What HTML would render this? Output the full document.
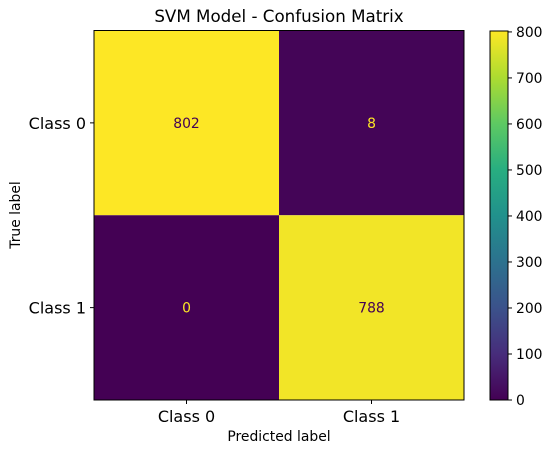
<!DOCTYPE html>
<html><head><meta charset="utf-8"><style>
body{margin:0;background:#fff;}
text{font-family:"DejaVu Sans","Liberation Sans",sans-serif;}
</style></head><body>
<svg id="c" width="553" height="454" xmlns="http://www.w3.org/2000/svg">
<defs><linearGradient id="vir" x1="0" y1="1" x2="0" y2="0">
<stop offset="0" stop-color="#440154"/><stop offset="0.125" stop-color="#472d7b"/><stop offset="0.25" stop-color="#3b528b"/><stop offset="0.375" stop-color="#2c728e"/><stop offset="0.5" stop-color="#21918c"/><stop offset="0.625" stop-color="#28ae80"/><stop offset="0.75" stop-color="#5ec962"/><stop offset="0.875" stop-color="#addc30"/><stop offset="1" stop-color="#fde725"/>
</linearGradient></defs>
<text x="279" y="22" font-size="16.7" text-anchor="middle">SVM Model - Confusion Matrix</text>
<g id="cells"></g>
<rect x="94" y="30.5" width="370" height="369.5" fill="none" stroke="#000" stroke-width="1"/>
<text x="279" y="441" font-size="13.9" text-anchor="middle">Predicted label</text>
<text transform="translate(20,215) rotate(-90)" font-size="13.9" text-anchor="middle">True label</text>
<rect x="490" y="31" width="18" height="369" fill="url(#vir)" stroke="#000" stroke-width="1"/>
<g id="cb"></g>
</svg>
<script>
const classes=["Class 0","Class 1"];
const row0=[802,8];
const row1=[0,788];
const cbTicks=[0,100,200,300,400,500,600,700,800];
const vmin=0,vmax=802;
const stops=[[68,1,84],[71,45,123],[59,82,139],[44,114,142],[33,145,140],[40,174,128],[94,201,98],[173,220,48],[253,231,37]];
function viridis(t){t=Math.max(0,Math.min(1,t))*8;const i=Math.min(7,Math.floor(t)),f=t-i;const a=stops[i],b=stops[i+1];return `rgb(${a.map((v,k)=>Math.round(v+(b[k]-v)*f)).join(',')})`;}
const NS="http://www.w3.org/2000/svg";
const X0=94,Y0=30.5,W=370,H=369.5,cw=W/2,ch=H/2;
const xs=i=>X0+i*cw, ys=j=>Y0+j*ch;
const cells=document.getElementById('cells');
[row0,row1].forEach((row,j)=>row.forEach((v,i)=>{
 const t=(v-vmin)/(vmax-vmin);
 const r=document.createElementNS(NS,'rect');
 r.setAttribute('x',xs(i));r.setAttribute('y',ys(j));r.setAttribute('width',cw);r.setAttribute('height',ch);r.setAttribute('fill',viridis(t));
 
 
 cells.appendChild(r);
 const tx=document.createElementNS(NS,'text');
 tx.setAttribute('x',xs(i)+cw/2);tx.setAttribute('y',ys(j)+ch/2+5);tx.setAttribute('text-anchor','middle');tx.setAttribute('font-size','13.9');
 tx.setAttribute('fill',t>0.5?'#440154':'#fde725');tx.textContent=v;
 
 
 cells.appendChild(tx);
}));
classes.forEach((c,i)=>{
 const t=document.createElementNS(NS,'text');
 t.setAttribute('x',xs(i)+cw/2);t.setAttribute('y',422);t.setAttribute('text-anchor','middle');t.setAttribute('font-size','16');t.textContent=c;
 
 
 cells.appendChild(t);
 const l=document.createElementNS(NS,'line');
 l.setAttribute('x1',xs(i)+cw/2);l.setAttribute('x2',xs(i)+cw/2);l.setAttribute('y1',400);l.setAttribute('y2',404);l.setAttribute('stroke','#000');
 
 
 cells.appendChild(l);
 const u=document.createElementNS(NS,'text');
 u.setAttribute('x',86);u.setAttribute('y',ys(i)+ch/2+6);u.setAttribute('text-anchor','end');u.setAttribute('font-size','16');u.textContent=c;
 
 
 cells.appendChild(u);
 const m=document.createElementNS(NS,'line');
 m.setAttribute('x1',90);m.setAttribute('x2',94);m.setAttribute('y1',ys(i)+ch/2);m.setAttribute('y2',ys(i)+ch/2);m.setAttribute('stroke','#000');
 
 
 cells.appendChild(m);
});
const cb=document.getElementById('cb');
const cy=v=>400-(v-vmin)/(vmax-vmin)*369;
cbTicks.forEach(v=>{
 const l=document.createElementNS(NS,'line');
 l.setAttribute('x1',508);l.setAttribute('x2',512);l.setAttribute('y1',cy(v));l.setAttribute('y2',cy(v));l.setAttribute('stroke','#000');
 
 
 cb.appendChild(l);
 const t=document.createElementNS(NS,'text');
 t.setAttribute('x',516);t.setAttribute('y',cy(v)+5);t.setAttribute('font-size','13.9');t.textContent=v;
 
 
 cb.appendChild(t);
});
</script>
</body></html>
